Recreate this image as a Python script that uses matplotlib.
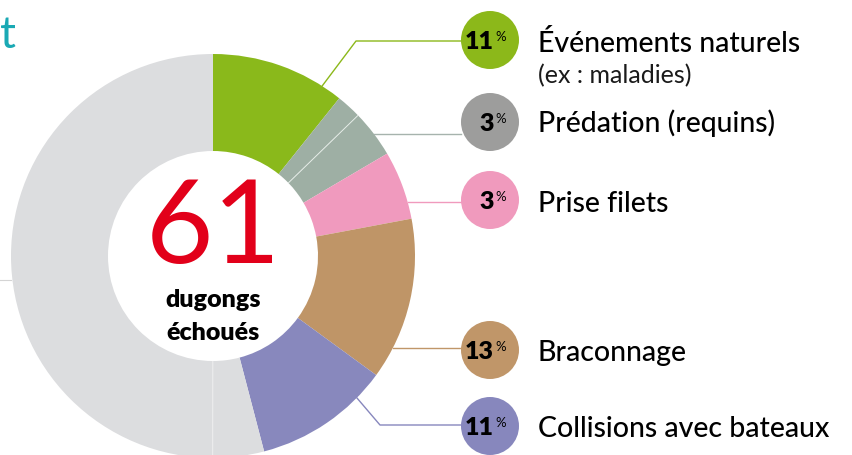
import numpy as np
import matplotlib.pyplot as plt
from matplotlib.patches import Circle

# donut slices, clockwise from the top
slice_values = [10.75, 2.0, 3.8, 5.5, 13.0, 10.9, 4.1, 50.0]
slice_colors = ['#8ab91b', '#9eafa4', '#9eafa4', '#f09abe', '#bf9567',
                '#8888bd', '#dcdddf', '#dcdddf']

# legend entries
causes = ['Événements naturels', 'Prédation (requins)', 'Prise filets',
          'Braconnage', 'Collisions avec bateaux']
cause_pct = ['11', '3', '3', '13', '11']
cause_colors = ['#8cb81a', '#9d9d9c', '#f09abd', '#c09669', '#8787bd']
line_colors = ['#8cb81a', '#a6b3ad', '#f09abd', '#c09669', '#8787bd']

total_count = '61'

H = 456


def Y(py):
    # convert pixel row (from top) to data y
    return H - py


fig = plt.figure(figsize=(8.53, 4.56), dpi=100)
ax = fig.add_axes([0, 0, 1, 1])

cx, cy = 213, 257
R, r_in = 202, 105

ax.pie(slice_values, colors=slice_colors, startangle=90, counterclock=False,
       radius=R, center=(cx, Y(cy)),
       wedgeprops=dict(width=R - r_in, linewidth=0))

# thin separators inside the grey slices
cum = np.cumsum(slice_values) / np.sum(slice_values)
for idx, col in [(1, '#e4ebe6'), (6, '#eeeeef')]:
    a = np.deg2rad(90 - 360 * cum[idx])
    ax.plot([cx + r_in * np.cos(a), cx + R * np.cos(a)],
            [Y(cy) + r_in * np.sin(a), Y(cy) + R * np.sin(a)],
            color=col, lw=0.7, solid_capstyle='butt')

# centre text
ax.text(cx, Y(230), total_count, color='#e2001a', fontsize=84,
        family='Lato', ha='center', va='center')
ax.text(cx, Y(300), 'dugongs', fontsize=18, family='Lato',
        fontweight='heavy', ha='center', va='center')
ax.text(cx, Y(333), 'échoués', fontsize=18, family='Lato',
        fontweight='heavy', ha='center', va='center')

# legend circles, leader lines and labels
circ_x, circ_r = 490, 29
circ_y = [41, 123, 201, 351, 427]
anchor_deg = [32.7, 53, 74.6, 117, 134.6]
line_y = [42, None, None, None, 426]
elbow_x = [356, None, None, None, 380]
label_base = [52, 132, 212, 361, 437]

for i in range(len(causes)):
    a = np.deg2rad(anchor_deg[i])
    ax0, ay0 = cx + R * np.sin(a), cy - R * np.cos(a)
    if elbow_x[i] is not None:
        xs = [ax0, elbow_x[i], circ_x - circ_r]
        ys = [ay0, line_y[i], line_y[i]]
    else:
        xs = [ax0, circ_x - circ_r]
        ys = [ay0, ay0]
    ax.plot(xs, [Y(v) for v in ys], color=line_colors[i], lw=1.0)

    ax.add_patch(Circle((circ_x, Y(circ_y[i])), circ_r,
                        color=cause_colors[i], lw=0))
    ax.text(circ_x + 4, Y(circ_y[i] + 1), cause_pct[i], fontsize=18,
            family='Lato', fontweight='heavy',
            ha='right', va='center', color='black')
    ax.text(circ_x + 5, Y(circ_y[i] - 4), '%', fontsize=9.5,
            family='Lato', ha='left', va='center', color='black')
    ax.text(538, Y(label_base[i]), causes[i], fontsize=20.5, family='Lato',
            fontweight='medium', ha='left', va='baseline', color='black')

ax.text(538, Y(83), '(ex : maladies)', fontsize=18, family='Lato',
        ha='left', va='baseline', color='#1a1a1a')

# cropped title letter and left rule
ax.text(0, Y(47.5), 't', fontsize=32, family='Lato', color='#1aa9b4',
        ha='left', va='baseline')
ax.plot([0, 11], [Y(281), Y(281)], color='#d4d4d4', lw=0.8)

ax.set_xlim(0, 853)
ax.set_ylim(0, H)
ax.axis('off')

fig.savefig('out.png', dpi=100)
